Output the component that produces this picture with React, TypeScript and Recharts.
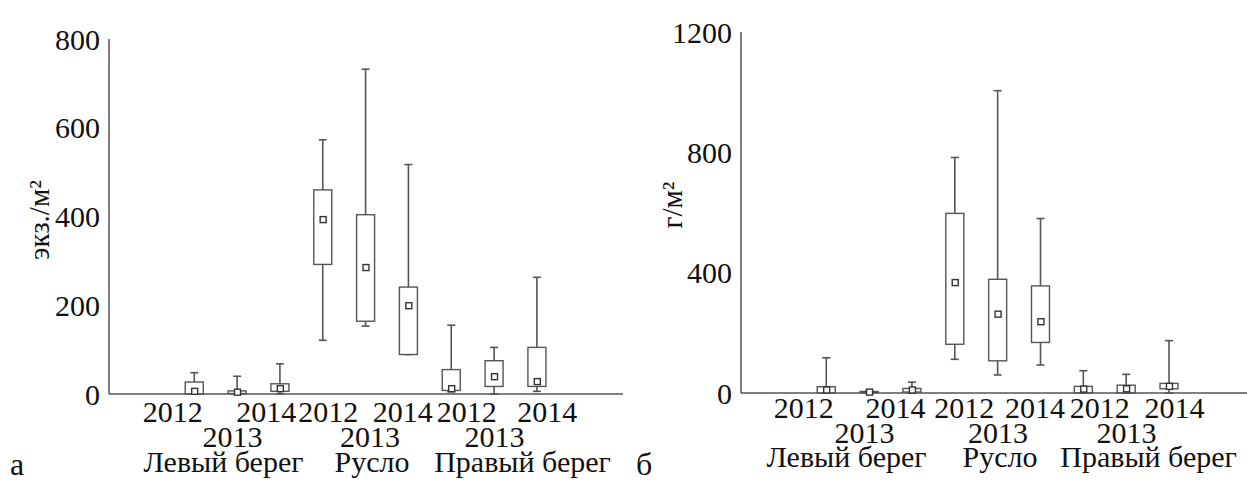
import { Bar, ComposedChart, Line, XAxis, YAxis } from "recharts"

// x positions of the nine boxes (site × year)
const positions = [2, 3, 4, 5, 6, 7, 8, 9, 10]
const years = ["2012", "2013", "2014", "2012", "2013", "2014", "2012", "2013", "2014"]
const sites = ["Левый берег", "Русло", "Правый берег"]

// а — численность, экз./м²
const densMin = [0, 0, 0, 121, 153, 89, 5, 0, 6]
const densQ1 = [0, 1, 6, 292, 164, 89, 8, 17, 17]
const densMean = [6, 4, 12, 393, 285, 199, 12, 39, 28]
const densQ3 = [27, 7, 23, 460, 404, 241, 55, 75, 105]
const densMax = [48, 40, 68, 573, 732, 517, 155, 105, 263]
const densTicks = [0, 200, 400, 600, 800]

// б — биомасса, г/м²
const bioMin = [0, 0, 0, 112, 60, 93, 0, 0, 0]
const bioQ1 = [0, 1, 3, 162, 107, 168, 0, 0, 14]
const bioMean = [10, 3, 10, 367, 262, 237, 13, 14, 22]
const bioQ3 = [21, 5, 15, 597, 378, 356, 22, 26, 32]
const bioMax = [117, 8, 36, 783, 1005, 580, 74, 62, 174]
const bioTicks = [0, 400, 800, 1200]

const FONT = "Liberation Serif, DejaVu Serif, Times New Roman, Times, serif"
const INK = "#111"
const GRAY = "#555"
const textStyle = { fontFamily: FONT }

function buildRows(min: number[], q1: number[], mean: number[], q3: number[], max: number[]) {
    return positions.map((pos, i) => ({
        pos,
        whisker: [min[i], max[i]],
        box: [q1[i], q3[i]],
        mean: mean[i],
    }))
}

const densData = buildRows(densMin, densQ1, densMean, densQ3, densMax)
const bioData = buildRows(bioMin, bioQ1, bioMean, bioQ3, bioMax)

const WhiskerShape = (props: any) => {
    const { x, y, width, height } = props
    if (x == null || y == null) return null
    const cx = x + width / 2
    const top = Math.min(y, y + height)
    const bottom = Math.max(y, y + height)
    return (
        <g stroke={GRAY} strokeWidth={1.6}>
            <line x1={cx} x2={cx} y1={top} y2={bottom} />
            <line x1={x} x2={x + width} y1={top} y2={top} />
            <line x1={x} x2={x + width} y1={bottom} y2={bottom} />
        </g>
    )
}

const BoxShape = (props: any) => {
    const { x, y, width, height } = props
    if (x == null || y == null) return null
    const top = Math.min(y, y + height)
    const h = Math.abs(height)
    return <rect x={x} y={top} width={width} height={h} fill="#fff" stroke={GRAY} strokeWidth={1.4} />
}

const MeanDot = (props: any) => {
    const { cx, cy } = props
    if (cx == null || cy == null) return null
    return <rect x={cx - 3} y={cy - 3} width={6} height={6} fill="#fff" stroke="#333" strokeWidth={1.4} />
}

interface TickLayout {
    rows: number[]        // baselines of year row, 2013 row, site row
    yearShift: number[]   // small label nudges, px
    siteShift: number[]
}

const leftLayout: TickLayout = {
    rows: [422, 447, 472],
    yearShift: [-22, -5, -14, 5, 4, -6, 15, 0, 10],
    siteShift: [-14, 6, 28],
}

const rightLayout: TickLayout = {
    rows: [418, 443, 467],
    yearShift: [-23, -5, -17, 9, 0, -6, 16, 0, 5],
    siteShift: [-23, 2, 22],
}

const YearTick = (props: any) => {
    const { x, payload, layout } = props
    const i = positions.indexOf(payload.value)
    if (i < 0) return null
    const mid = i % 3 === 1
    const g = (i - 1) / 3
    return (
        <g>
            <text x={x + layout.yearShift[i]} y={mid ? layout.rows[1] : layout.rows[0]} textAnchor="middle"
                fill={INK} fontSize={30} style={textStyle}>
                {years[i]}
            </text>
            {mid && (
                <text x={x + layout.siteShift[g]} y={layout.rows[2]} textAnchor="middle"
                    fill={INK} fontSize={30} style={textStyle}>
                    {sites[g]}
                </text>
            )}
        </g>
    )
}

function BoxPanel(props: {
    data: any[]
    ticks: number[]
    xMax: number
    layout: TickLayout
    margin: { top: number; right: number; bottom: number; left: number }
    yWidth: number
    xHeight: number
    left: number
    width: number
}) {
    const { data, ticks, xMax, layout, margin, yWidth, xHeight, left, width } = props
    return (
        <div style={{ position: "absolute", left, top: 0 }}>
            <ComposedChart width={width} height={481} data={data} margin={margin} style={textStyle}>
                <XAxis
                    xAxisId="box"
                    dataKey="pos"
                    type="number"
                    domain={[0, xMax]}
                    ticks={positions}
                    interval={0}
                    height={xHeight}
                    tickLine={false}
                    axisLine={{ stroke: GRAY, strokeWidth: 1.5 }}
                    tick={(p: any) => <YearTick {...p} layout={layout} />}
                />
                <XAxis xAxisId="whisker" dataKey="pos" type="number" domain={[0, xMax]} ticks={positions} hide />
                <YAxis
                    type="number"
                    domain={[0, ticks[ticks.length - 1]]}
                    ticks={ticks}
                    interval={0}
                    width={yWidth}
                    tickLine={false}
                    tickMargin={3}
                    axisLine={{ stroke: GRAY, strokeWidth: 1.5 }}
                    tick={{ fill: INK, fontSize: 30, fontFamily: FONT, style: textStyle }}
                />
                <Bar xAxisId="whisker" dataKey="whisker" barSize={8} shape={WhiskerShape} isAnimationActive={false} />
                <Bar xAxisId="box" dataKey="box" barSize={18} shape={BoxShape} isAnimationActive={false} />
                <Line
                    xAxisId="box"
                    dataKey="mean"
                    stroke="none"
                    dot={MeanDot}
                    activeDot={false}
                    isAnimationActive={false}
                />
            </ComposedChart>
        </div>
    )
}

export default function App() {
    return (
        <div style={{ position: "absolute", left: 0, top: 0, width: 1247, height: 481, background: "#fff", fontFamily: FONT }}>
            <BoxPanel
                data={densData}
                ticks={densTicks}
                xMax={12}
                layout={leftLayout}
                margin={{ top: 39, right: 17, bottom: 0, left: 9 }}
                yWidth={100}
                xHeight={87}
                left={0}
                width={640}
            />
            <BoxPanel
                data={bioData}
                ticks={bioTicks}
                xMax={11.81}
                layout={rightLayout}
                margin={{ top: 32, right: 0, bottom: 0, left: 9 }}
                yWidth={125}
                xHeight={88}
                left={607}
                width={640}
            />
            <svg width={1247} height={481} style={{ position: "absolute", left: 0, top: 0, pointerEvents: "none" }}>
                <text x={39} y={220} transform="rotate(-90 39 220)" textAnchor="middle" dominantBaseline="central"
                    fontSize={29} fill={INK} style={textStyle}>
                    экз./м²
                </text>
                <text x={672} y={205} transform="rotate(-90 672 205)" textAnchor="middle" dominantBaseline="central"
                    fontSize={29} fill={INK} style={textStyle}>
                    г/м²
                </text>
                <text x={10} y={475} fontSize={32} fill={INK} style={textStyle}>а</text>
                <text x={636} y={475} fontSize={32} fill={INK} style={textStyle}>б</text>
            </svg>
        </div>
    )
}
